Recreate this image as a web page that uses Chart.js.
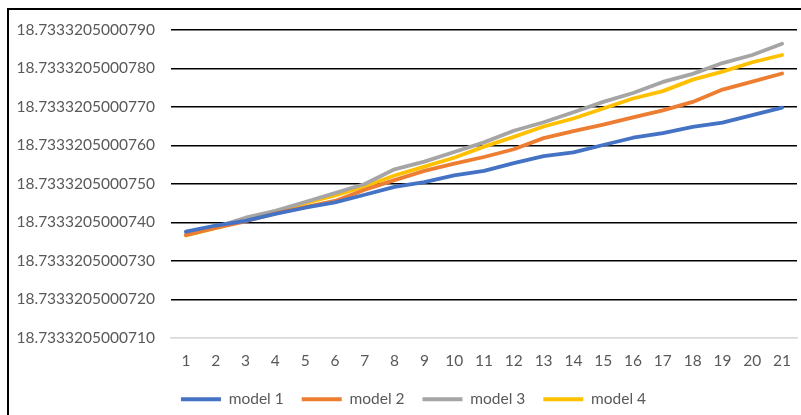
<!DOCTYPE html>
<html>
<head>
<meta charset="utf-8">
<script src="https://cdn.jsdelivr.net/npm/chart.js@4/dist/chart.umd.min.js"></script>
<style>
  html, body { margin: 0; padding: 0; background: #fff; width: 801px; height: 415px; overflow: hidden; }
  #frame { position: absolute; left: 7px; top: 8px; width: 840px; height: 430px;
           border-left: 2px solid #000; border-top: 2px solid #000; }
  #wrap { position: absolute; left: 0; top: 0; width: 820px; height: 409px; }
</style>
</head>
<body>
<div id="frame"><div id="wrap"><canvas id="c"></canvas></div></div>
<script>
// Run index on the x axis
const categories = ['1','2','3','4','5','6','7','8','9','10','11','12','13','14','15','16','17','18','19','20','21'];

// Series values
const model1 = [18.73332050007376, 18.73332050007392, 18.73332050007404, 18.73332050007422, 18.73332050007438,
                18.73332050007452, 18.73332050007472, 18.73332050007492, 18.73332050007505, 18.73332050007522,
                18.73332050007534, 18.73332050007554, 18.73332050007572, 18.73332050007582, 18.73332050007601,
                18.73332050007620, 18.73332050007632, 18.73332050007648, 18.73332050007659, 18.73332050007679,
                18.73332050007698];
const model2 = [18.73332050007367, 18.73332050007386, 18.73332050007403, 18.73332050007423, 18.73332050007440,
                18.73332050007456, 18.73332050007485, 18.73332050007510, 18.73332050007534, 18.73332050007553,
                18.73332050007570, 18.73332050007590, 18.73332050007619, 18.73332050007637, 18.73332050007654,
                18.73332050007673, 18.73332050007691, 18.73332050007713, 18.73332050007745, 18.73332050007766,
                18.73332050007787];
const model3 = [18.73332050007368, 18.73332050007388, 18.73332050007412, 18.73332050007430, 18.73332050007453,
                18.73332050007476, 18.73332050007500, 18.73332050007538, 18.73332050007558, 18.73332050007583,
                18.73332050007608, 18.73332050007638, 18.73332050007660, 18.73332050007686, 18.73332050007713,
                18.73332050007736, 18.73332050007765, 18.73332050007786, 18.73332050007814, 18.73332050007835,
                18.73332050007864];
const model4 = [18.73332050007366, 18.73332050007386, 18.73332050007406, 18.73332050007428, 18.73332050007450,
                18.73332050007470, 18.73332050007493, 18.73332050007522, 18.73332050007545, 18.73332050007568,
                18.73332050007597, 18.73332050007622, 18.73332050007649, 18.73332050007670, 18.73332050007696,
                18.73332050007722, 18.73332050007741, 18.73332050007771, 18.73332050007792, 18.73332050007816,
                18.73332050007835];

// Value axis tick positions
const yTicks = [18.733320500071, 18.733320500072, 18.733320500073, 18.733320500074, 18.733320500075,
                18.733320500076, 18.733320500077, 18.733320500078, 18.733320500079];

const seriesNames = ['model 1', 'model 2', 'model 3', 'model 4'];
const seriesColors = ['#4472C4', '#ED7D31', '#A5A5A5', '#FFC000'];
const seriesValues = [model1, model2, model3, model4];

const labelFont = { family: 'Lato, "Open Sans", sans-serif', size: 15.5 };
const textColor = '#595959';

// Centre the legend row under the whole frame rather than the padded box
const legendNudge = {
  id: 'legendNudge',
  afterLayout(chart) {
    chart.legend.left += 10.5;
    chart.legend.right += 10.5;
  }
};

new Chart(document.getElementById('c'), {
  type: 'line',
  data: {
    labels: categories,
    datasets: seriesValues.map((vals, i) => ({
      label: seriesNames[i],
      data: vals,
      borderColor: seriesColors[i],
      backgroundColor: seriesColors[i],
      borderWidth: 3.8,
      borderCapStyle: 'round',
      borderJoinStyle: 'round',
      pointRadius: 0,
      pointHoverRadius: 0,
      pointStyle: 'line',
      tension: 0,
      fill: false
    }))
  },
  plugins: [legendNudge],
  options: {
    responsive: true,
    maintainAspectRatio: false,
    animation: false,
    devicePixelRatio: 1,
    layout: { padding: { left: 0, right: 32, top: 20, bottom: 2 } },
    plugins: {
      legend: {
        position: 'bottom',
        labels: {
          usePointStyle: true,
          pointStyleWidth: 40,
          padding: 18,
          color: textColor,
          font: labelFont
        }
      },
      tooltip: { enabled: false }
    },
    scales: {
      x: {
        type: 'category',
        offset: true,
        afterFit: (axis) => { axis.height = axis.height - 11; },
        grid: { display: false, drawTicks: false },
        border: { display: true, color: '#D9D9D9', width: 1.5 },
        ticks: { color: textColor, font: labelFont, padding: 14, maxRotation: 0, autoSkip: false }
      },
      y: {
        type: 'linear',
        bounds: 'data',
        min: yTicks[0],
        max: yTicks[yTicks.length - 1],
        afterBuildTicks: (axis) => {
          axis.ticks = yTicks.map(v => ({ value: v }));
          axis.min = yTicks[0];
          axis.max = yTicks[yTicks.length - 1];
        },
        afterFit: (axis) => {
          axis.width = 162;
          axis.paddingTop = 10;
          axis.paddingBottom = 10;
        },
        grid: {
          drawTicks: false,
          color: (ctx) => ctx.index === 0 ? '#D9D9D9' : '#000000',
          lineWidth: 1.6
        },
        border: { display: false },
        ticks: {
          color: textColor,
          font: labelFont,
          padding: 16,
          callback: (v) => Number(v).toFixed(13)
        }
      }
    }
  }
});
</script>
</body>
</html>
